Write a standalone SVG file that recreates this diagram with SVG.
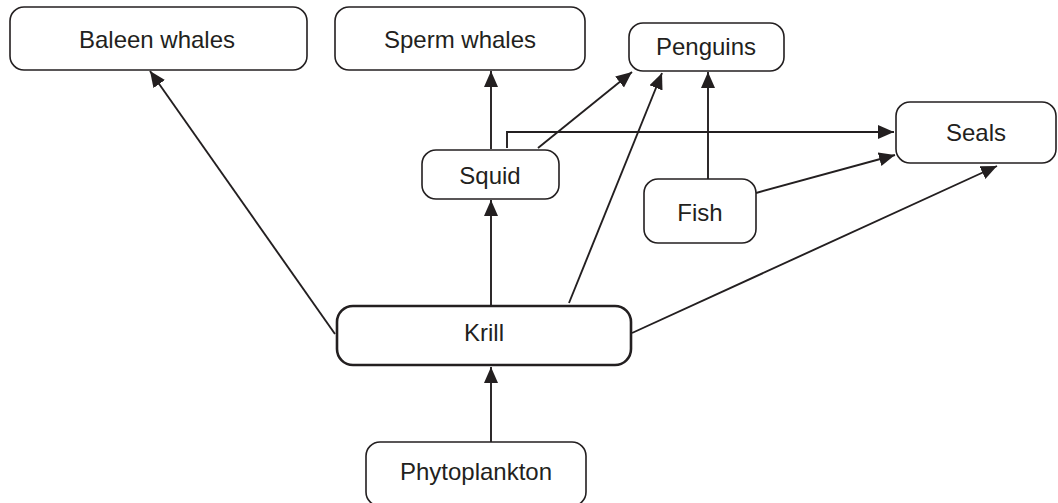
<svg xmlns="http://www.w3.org/2000/svg" width="1058" height="503" viewBox="0 0 1058 503">
<style>
.box{fill:#fff;stroke:#231f20;stroke-width:1.6}
.thick{stroke-width:2.6}
.lbl{font-family:"Liberation Sans",Arial,sans-serif;font-size:24px;fill:#231f20;text-anchor:middle}
.edge{fill:none;stroke:#231f20;stroke-width:1.9;marker-end:url(#ah)}
</style>
<defs>
<marker id="ah" markerUnits="userSpaceOnUse" markerWidth="18" markerHeight="16" refX="16" refY="7" orient="auto">
<path d="M0,0 L16,7 L0,14 z" fill="#231f20"/>
</marker>
</defs>
<g id="connectors">
<line class="edge" x1="335" y1="334" x2="150" y2="71"/>
<line class="edge" x1="491" y1="305" x2="491" y2="200"/>
<line class="edge" x1="491" y1="149" x2="491" y2="71"/>
<line class="edge" x1="538" y1="148" x2="632" y2="72"/>
<polyline class="edge" points="507,148 507,132 894,132"/>
<line class="edge" x1="569" y1="303" x2="662" y2="73"/>
<line class="edge" x1="708" y1="179" x2="708" y2="72"/>
<line class="edge" x1="756" y1="193" x2="895" y2="155"/>
<line class="edge" x1="632" y1="333" x2="997" y2="166"/>
<line class="edge" x1="491" y1="442" x2="491" y2="367"/>
</g>
<g id="baleen"><rect class="box" x="10" y="7" width="297" height="63" rx="14"/><text class="lbl" x="157" y="48">Baleen whales</text></g>
<g id="sperm"><rect class="box" x="335" y="7" width="250" height="63" rx="14"/><text class="lbl" x="460" y="48">Sperm whales</text></g>
<g id="penguins"><rect class="box" x="629" y="23" width="155" height="48" rx="14"/><text class="lbl" x="706" y="55">Penguins</text></g>
<g id="squid"><rect class="box" x="422" y="150" width="137" height="49" rx="14"/><text class="lbl" x="490" y="184">Squid</text></g>
<g id="seals"><rect class="box" x="896" y="102" width="160" height="61" rx="14"/><text class="lbl" x="976" y="141">Seals</text></g>
<g id="fish"><rect class="box" x="644" y="179" width="112" height="64" rx="14"/><text class="lbl" x="700" y="221">Fish</text></g>
<g id="krill"><rect class="box thick" x="337" y="306" width="294" height="59" rx="16"/><text class="lbl" x="484" y="341">Krill</text></g>
<g id="phyto"><rect class="box" x="366" y="442" width="220" height="64" rx="14"/><text class="lbl" x="476" y="480">Phytoplankton</text></g>
</svg>
